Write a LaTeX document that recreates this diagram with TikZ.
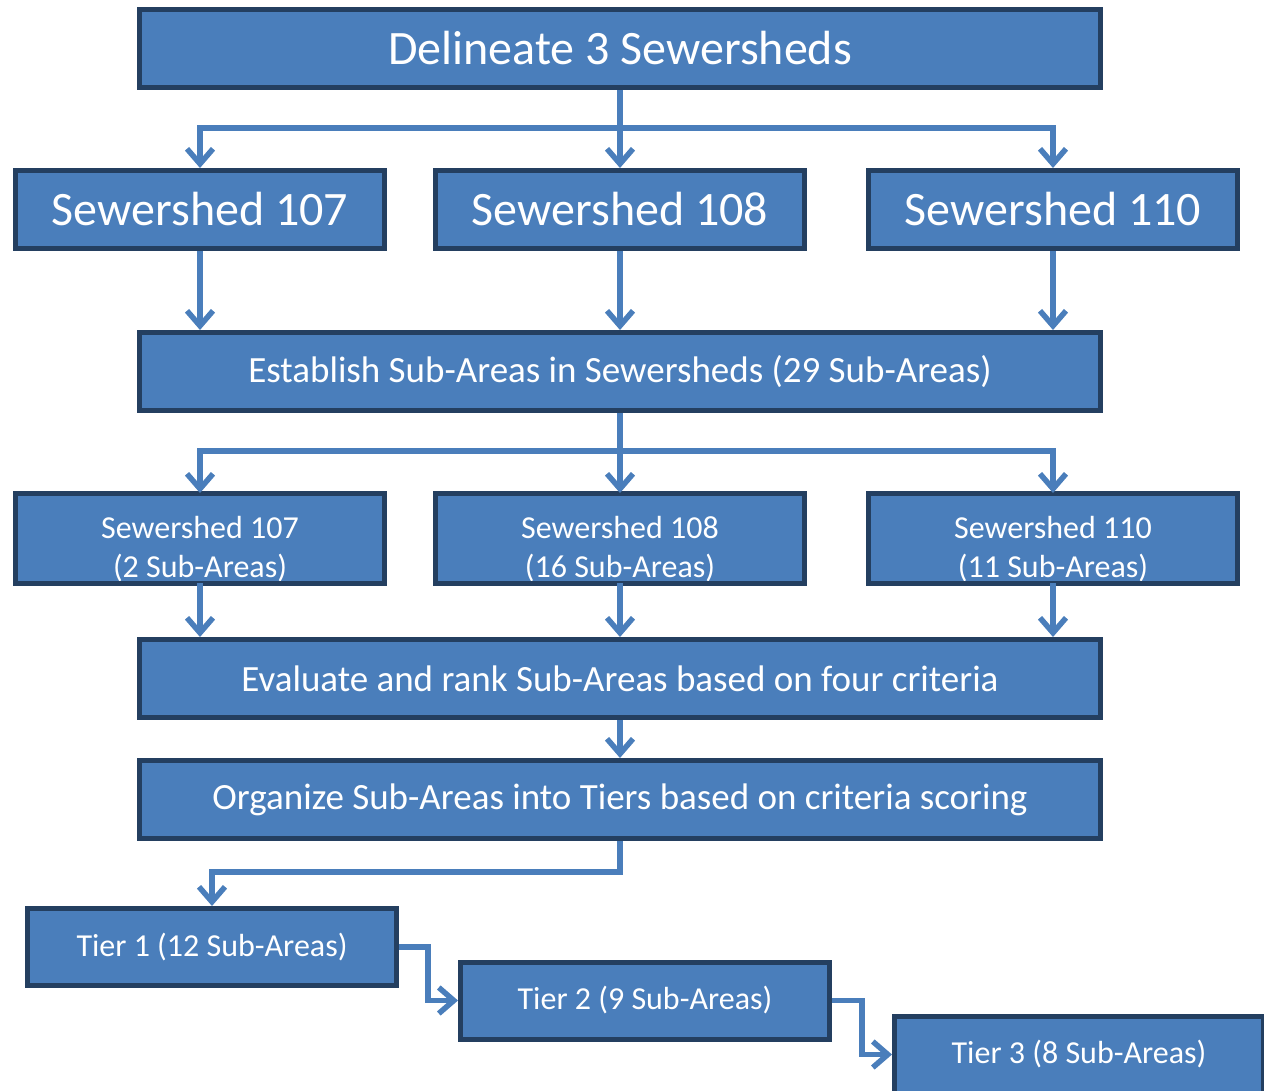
\documentclass[tikz,border=0pt]{standalone}
\usepackage{fontspec}
\setmainfont{Carlito}
\usepackage{tikz}
\usetikzlibrary{arrows.meta, positioning}
\definecolor{shedfill}{RGB}{74, 126, 187}
\definecolor{shededge}{RGB}{36, 63, 96}
\definecolor{shedline}{RGB}{74, 126, 187}

\begin{document}
\begin{tikzpicture}[
  node distance=78pt and 46pt,
  widebox/.style={
    rectangle, fill=shedfill, draw=shededge, line width=5pt,
    minimum width=961pt, minimum height=78pt, inner sep=0pt,
    text=white, font=\fontsize{37}{44}\selectfont
  },
  shedbox/.style={
    rectangle, fill=shedfill, draw=shededge, line width=5pt,
    minimum width=369pt, minimum height=78pt, inner sep=0pt,
    text=white, font=\fontsize{48}{56}\selectfont
  },
  subbox/.style={
    rectangle, fill=shedfill, outer sep=0pt, inner sep=0pt,
    minimum width=369pt, minimum height=90pt,
    text height=84.5pt, text depth=5.5pt, align=center,
    text=white, font=\fontsize{32}{39}\selectfont
  },
  subedge/.style={draw=shededge, line width=5pt},
  tierbox/.style={
    rectangle, fill=shedfill, draw=shededge, line width=5pt,
    minimum width=369pt, minimum height=77pt, inner sep=0pt,
    text=white, font=\fontsize{32}{39}\selectfont
  },
  arrow/.style={-{Straight Barb[length=15pt,width=26pt]}, line width=5.5pt, color=shedline}
]
  \clip (0,0) rectangle (1264pt,-1091pt);

  % Top
  \node[widebox, font=\fontsize{48}{58}\selectfont] (top) at (620pt,-48.5pt) {Delineate 3 Sewersheds};

  % Sewersheds
  \node[shedbox, below=78pt of top] (s108) {Sewershed 108};
  \node[shedbox, left=46pt of s108] (s107) {Sewershed 107};
  \node[shedbox, right=59pt of s108] (s110) {Sewershed 110};

  % Sub-areas
  \node[widebox, below=79pt of s108] (est) {Establish Sub-Areas in Sewersheds (29 Sub-Areas)};
  \node[subbox, below=80pt of est] (r108) {Sewershed 108\\(16 Sub-Areas)};
  \node[subbox, left=51pt of r108] (r107) {Sewershed 107\\(2 Sub-Areas)};
  \node[subbox, right=64pt of r108] (r110) {Sewershed 110\\(11 Sub-Areas)};
  \draw[subedge] (r107.south west) rectangle (r107.north east);
  \draw[subedge] (r108.south west) rectangle (r108.north east);
  \draw[subedge] (r110.south west) rectangle (r110.north east);

  % Ranking
  \node[widebox, below=54pt of r108] (eval) {Evaluate and rank Sub-Areas based on four criteria};
  \node[widebox, below=38pt of eval] (org) {Organize Sub-Areas into Tiers based on criteria scoring};

  % Tiers
  \node[tierbox, below=65pt of org, xshift=-408pt] (tier1) {Tier 1 (12 Sub-Areas)};
  \node[tierbox, right=59pt of tier1, yshift=-53.5pt] (tier2) {Tier 2 (9 Sub-Areas)};
  \node[tierbox, right=60pt of tier2, yshift=-54pt] (tier3) {Tier 3 (8 Sub-Areas)};

  % Arrows
  \draw[arrow] (top) -- (s108);
  \draw[arrow] (top.south) -- ++(0,-38pt) -| (s107.north);
  \draw[arrow] (top.south) -- ++(0,-38pt) -| (s110.north);
  \draw[arrow] (s107.south) -- (s107.south |- est.north);
  \draw[arrow] (s108) -- (est);
  \draw[arrow] (s110.south) -- (s110.south |- est.north);
  \draw[arrow] (est) -- (r108);
  \draw[arrow] (est.south) -- ++(0,-38pt) -| (r107.north);
  \draw[arrow] (est.south) -- ++(0,-38pt) -| (r110.north);
  \draw[arrow] (r107.south) -- (r107.south |- eval.north);
  \draw[arrow] (r108) -- (eval);
  \draw[arrow] (r110.south) -- (r110.south |- eval.north);
  \draw[arrow] (eval) -- (org);
  \draw[arrow] (org.south) -- ++(0,-31pt) -| (tier1.north);
  \draw[arrow] (tier1.east) -- ++(29pt,0) |- (tier2.west);
  \draw[arrow] (tier2.east) -- ++(30pt,0) |- (tier3.west);
\end{tikzpicture}
\end{document}
